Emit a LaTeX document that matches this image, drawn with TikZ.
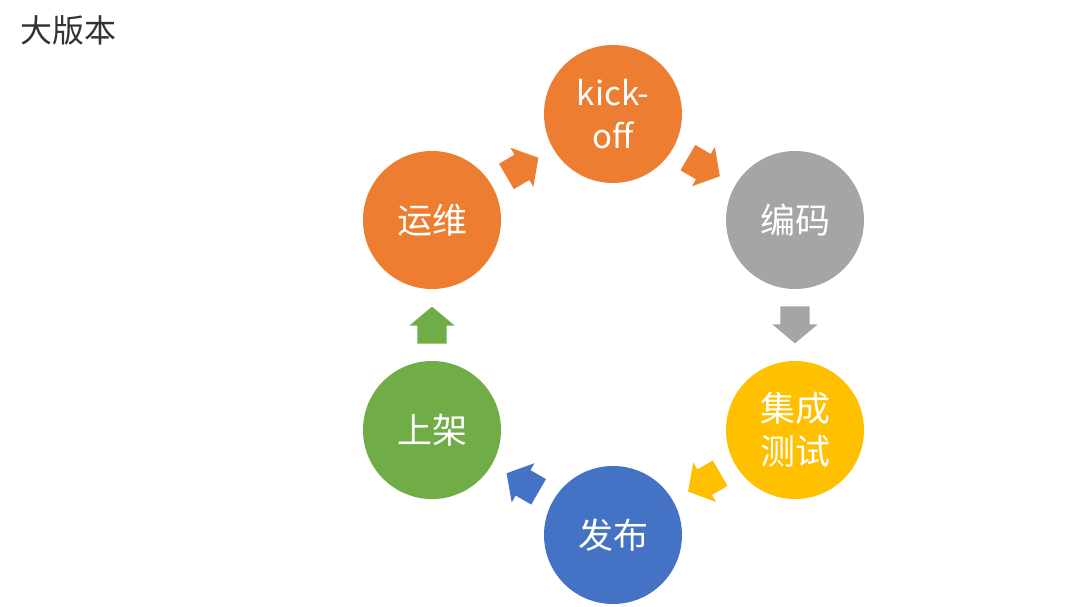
\documentclass[tikz,border=0pt]{standalone}
\usepackage{fontspec}
\setmainfont{Noto Sans CJK SC}
\usetikzlibrary{shapes.arrows,calc}
\definecolor{cOrange}{HTML}{ED7D31}
\definecolor{cGray}{HTML}{A5A5A5}
\definecolor{cYellow}{HTML}{FFC000}
\definecolor{cBlue}{HTML}{4472C4}
\definecolor{cGreen}{HTML}{70AD47}
\definecolor{titlegray}{HTML}{333333}
\begin{document}
\begin{tikzpicture}[x=1pt,y=1pt,
  stage/.style={circle, minimum size=138pt, inner sep=0pt, text=white,
    font=\fontsize{35}{43}\selectfont, align=center},
  flow/.style={single arrow, minimum height=37pt, inner xsep=0pt, inner ysep=14.5pt,
    single arrow head extend=8pt, single arrow tip angle=100,
    anchor=center, sloped, allow upside down, pos=0.47}]
\useasboundingbox[fill=white] (0,0) rectangle (1080,-606);
\node[anchor=west, inner sep=0pt, font=\fontsize{32}{32}\selectfont, text=titlegray] (title) at (20,-30) {大版本};
\node[stage, fill=cOrange, font=\fontsize{33}{43}\selectfont] (kick) at (613,-114) {kick-\\off};
\node[stage, fill=cGray] (code) at (795,-220) {编码};
\node[stage, fill=cYellow] (test) at (795,-430) {集成\\测试};
\node[stage, fill=cBlue] (pub) at (613,-535) {发布};
\node[stage, fill=cGreen] (shelf) at (432,-430) {上架};
\node[stage, fill=cOrange] (ops) at (432,-220) {运维};
\path (kick.center) -- (code.center) node[flow, fill=cOrange] (a1) {};
\path (code.center) -- (test.center) node[flow, fill=cGray] (a2) {};
\path (test.center) -- (pub.center) node[flow, fill=cYellow] (a3) {};
\path (pub.center) -- (shelf.center) node[flow, fill=cBlue] (a4) {};
\path (shelf.center) -- (ops.center) node[flow, fill=cGreen] (a5) {};
\path (ops.center) -- (kick.center) node[flow, fill=cOrange] (a6) {};
\end{tikzpicture}
\end{document}
